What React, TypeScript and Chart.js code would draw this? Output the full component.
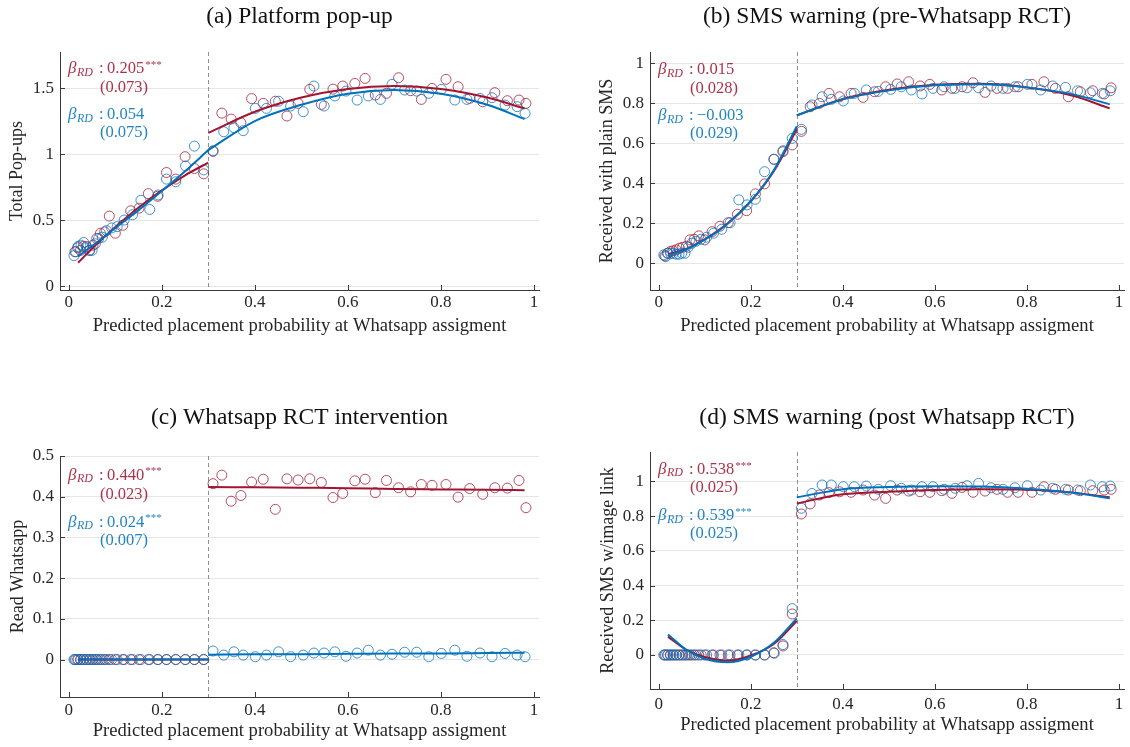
import React, { useEffect, useRef } from "react";
import { Chart, registerables } from "chart.js";

Chart.register(...registerables);

// ---------- bin centres of the running variable (shared by all panels) ----------
const X_RED_LEFT = [0.013, 0.019, 0.025, 0.031, 0.038, 0.045, 0.052, 0.06, 0.068, 0.077, 0.087, 0.1, 0.116, 0.133, 0.151, 0.171, 0.191, 0.21, 0.23, 0.25, 0.27, 0.29];
const X_RED_RIGHT = [0.31, 0.329, 0.349, 0.37, 0.393, 0.418, 0.444, 0.469, 0.493, 0.518, 0.543, 0.568, 0.589, 0.615, 0.637, 0.659, 0.683, 0.709, 0.735, 0.758, 0.781, 0.811, 0.837, 0.862, 0.89, 0.916, 0.943, 0.968, 0.983];
const X_BLUE_LEFT = [0.011, 0.015, 0.02, 0.026, 0.032, 0.038, 0.044, 0.05, 0.057, 0.064, 0.072, 0.081, 0.092, 0.104, 0.119, 0.137, 0.155, 0.174, 0.192, 0.21, 0.23, 0.251, 0.27, 0.29];
const X_BLUE_RIGHT = [0.31, 0.333, 0.355, 0.375, 0.401, 0.425, 0.451, 0.477, 0.504, 0.527, 0.549, 0.572, 0.596, 0.62, 0.644, 0.67, 0.695, 0.722, 0.748, 0.774, 0.801, 0.83, 0.856, 0.884, 0.91, 0.938, 0.964, 0.981];

// knots of the fitted polynomials on each side of the cutoff
const FIT_X_LEFT = [0.02, 0.06, 0.1, 0.15, 0.2, 0.25, 0.3];
const FIT_X_RIGHT = [0.3, 0.4, 0.5, 0.6, 0.7, 0.8, 0.9, 0.98];

const CUTOFF = 0.3;
const X_TICKS = [0, 0.2, 0.4, 0.6, 0.8, 1];
const X_TITLE = "Predicted placement probability at Whatsapp assigment";

// ---------- (a) Platform pop-up ----------
const A_RED_LEFT = [0.26, 0.29, 0.27, 0.3, 0.3, 0.27, 0.31, 0.36, 0.4, 0.41, 0.53, 0.4, 0.46, 0.57, 0.59, 0.7, 0.68, 0.86, 0.81, 0.98, 0.89, 0.85];
const A_RED_RIGHT = [1.02, 1.31, 1.265, 1.237, 1.42, 1.384, 1.4, 1.288, 1.384, 1.49, 1.376, 1.492, 1.515, 1.535, 1.573, 1.447, 1.46, 1.578, 1.48, 1.414, 1.497, 1.566, 1.51, 1.422, 1.396, 1.465, 1.404, 1.409, 1.384];
const A_BLUE_LEFT = [0.23, 0.26, 0.3, 0.31, 0.33, 0.29, 0.27, 0.27, 0.32, 0.36, 0.37, 0.42, 0.44, 0.45, 0.5, 0.54, 0.65, 0.58, 0.69, 0.81, 0.79, 0.91, 1.06, 0.88];
const A_BLUE_RIGHT = [1.025, 1.169, 1.2, 1.177, 1.346, 1.346, 1.4, 1.364, 1.321, 1.515, 1.364, 1.44, 1.477, 1.409, 1.44, 1.414, 1.528, 1.485, 1.477, 1.46, 1.49, 1.409, 1.414, 1.422, 1.427, 1.371, 1.359, 1.308];
const A_FIT_RED_LEFT = [0.177, 0.318, 0.447, 0.595, 0.725, 0.839, 0.935];
const A_FIT_RED_RIGHT = [1.16, 1.32, 1.428, 1.493, 1.515, 1.493, 1.428, 1.345];
const A_FIT_BLUE_LEFT = [0.225, 0.33, 0.44, 0.575, 0.72, 0.87, 1.03];
const A_FIT_BLUE_RIGHT = [1.03, 1.25, 1.373, 1.457, 1.485, 1.457, 1.373, 1.265];
const A_Y_TICKS = [0, 0.5, 1, 1.5];

// ---------- (b) SMS warning (pre-Whatsapp RCT) ----------
const B_RED_LEFT = [0.037, 0.05, 0.058, 0.062, 0.067, 0.075, 0.08, 0.085, 0.117, 0.12, 0.137, 0.117, 0.158, 0.185, 0.203, 0.245, 0.263, 0.347, 0.397, 0.52, 0.558, 0.592];
const B_RED_RIGHT = [0.66, 0.783, 0.8, 0.85, 0.833, 0.85, 0.83, 0.858, 0.883, 0.897, 0.908, 0.887, 0.895, 0.867, 0.875, 0.883, 0.903, 0.855, 0.875, 0.875, 0.883, 0.895, 0.908, 0.875, 0.833, 0.858, 0.863, 0.847, 0.878];
const B_BLUE_LEFT = [0.042, 0.033, 0.05, 0.048, 0.05, 0.045, 0.045, 0.05, 0.05, 0.08, 0.1, 0.11, 0.12, 0.13, 0.15, 0.17, 0.203, 0.317, 0.292, 0.32, 0.458, 0.52, 0.563, 0.625];
const B_BLUE_RIGHT = [0.67, 0.792, 0.833, 0.82, 0.812, 0.85, 0.867, 0.86, 0.87, 0.883, 0.867, 0.847, 0.875, 0.883, 0.875, 0.878, 0.878, 0.887, 0.875, 0.883, 0.895, 0.867, 0.887, 0.88, 0.863, 0.853, 0.85, 0.863];
const B_FIT_RED_LEFT = [0.045, 0.072, 0.12, 0.2, 0.31, 0.46, 0.67];
const B_FIT_RED_RIGHT = [0.74, 0.822, 0.868, 0.893, 0.898, 0.88, 0.838, 0.775];
const B_FIT_BLUE_LEFT = [0.04, 0.07, 0.118, 0.198, 0.31, 0.465, 0.685];
const B_FIT_BLUE_RIGHT = [0.74, 0.82, 0.865, 0.89, 0.895, 0.88, 0.845, 0.795];
const B_Y_TICKS = [0, 0.2, 0.4, 0.6, 0.8, 1];

// ---------- (c) Whatsapp RCT intervention ----------
const C_RED_LEFT = [0, 0, 0, 0, 0, 0, 0, 0, 0, 0, 0, 0, 0, 0, 0, 0, 0, 0, 0, 0, 0, 0];
const C_RED_RIGHT = [0.432, 0.453, 0.389, 0.403, 0.436, 0.443, 0.369, 0.444, 0.441, 0.444, 0.435, 0.398, 0.408, 0.439, 0.443, 0.41, 0.44, 0.422, 0.412, 0.43, 0.428, 0.43, 0.399, 0.42, 0.406, 0.422, 0.421, 0.44, 0.373];
const C_BLUE_LEFT = [0, 0, 0, 0, 0, 0, 0, 0, 0, 0, 0, 0, 0, 0, 0, 0, 0, 0, 0, 0, 0, 0, 0, 0];
const C_BLUE_RIGHT = [0.021, 0.011, 0.019, 0.011, 0.007, 0.011, 0.019, 0.007, 0.011, 0.016, 0.016, 0.019, 0.008, 0.016, 0.023, 0.011, 0.013, 0.018, 0.018, 0.007, 0.015, 0.023, 0.008, 0.016, 0.007, 0.015, 0.011, 0.007];
const C_FIT_RED_LEFT = [0, 0, 0, 0, 0, 0, 0];
const C_FIT_RED_RIGHT = [0.424, 0.423, 0.422, 0.421, 0.419, 0.418, 0.417, 0.416];
const C_FIT_BLUE_LEFT = [0, 0, 0, 0, 0, 0, 0];
const C_FIT_BLUE_RIGHT = [0.012, 0.013, 0.013, 0.014, 0.015, 0.015, 0.016, 0.017];
const C_Y_TICKS = [0, 0.1, 0.2, 0.3, 0.4, 0.5];

// ---------- (d) SMS warning (post Whatsapp RCT) ----------
const D_RED_LEFT = [0, 0, 0, 0, 0, 0, 0, 0, 0, 0, 0, 0, 0, 0, 0, 0, 0, 0, 0, 0.013, 0.052, 0.236];
const D_RED_RIGHT = [0.812, 0.87, 0.921, 0.935, 0.94, 0.937, 0.95, 0.921, 0.902, 0.95, 0.944, 0.94, 0.937, 0.946, 0.931, 0.965, 0.937, 0.944, 0.954, 0.937, 0.937, 0.937, 0.969, 0.954, 0.95, 0.946, 0.946, 0.95, 0.954];
const D_BLUE_LEFT = [0, 0, 0, 0, 0, 0, 0, 0, 0, 0, 0, 0, 0, 0, 0, 0, 0, 0, 0, 0, 0, 0.01, 0.06, 0.267];
const D_BLUE_RIGHT = [0.845, 0.93, 0.979, 0.979, 0.969, 0.969, 0.973, 0.954, 0.975, 0.96, 0.95, 0.969, 0.969, 0.954, 0.96, 0.975, 0.988, 0.963, 0.954, 0.963, 0.975, 0.95, 0.96, 0.954, 0.95, 0.979, 0.969, 0.973];
const D_FIT_RED_LEFT = [0.106, 0.03, -0.012, -0.033, -0.003, 0.063, 0.196];
const D_FIT_RED_RIGHT = [0.873, 0.925, 0.94, 0.95, 0.954, 0.952, 0.935, 0.908];
const D_FIT_BLUE_LEFT = [0.118, 0.03, -0.022, -0.042, -0.01, 0.07, 0.211];
const D_FIT_BLUE_RIGHT = [0.908, 0.955, 0.968, 0.972, 0.97, 0.958, 0.935, 0.902];
const D_Y_TICKS = [0, 0.2, 0.4, 0.6, 0.8, 1];

// ---------- styling ----------
const FONT = '"Liberation Serif", "Times New Roman", serif';
const RED_LINE = "#a2142f";
const RED_MARK = "rgba(162,20,47,0.75)";
const RED_TEXT = "rgba(162,20,47,0.88)";
const BLUE_LINE = "#0072bd";
const BLUE_MARK = "rgba(0,114,189,0.75)";
const BLUE_TEXT = "rgba(0,114,189,0.88)";
const AXIS = "#3a3a3a";
const GRID = "#e6e6e6";
const TEXT = "#262626";
const TITLE_SIZE = 23.5;
const AXIS_TITLE_SIZE = 18;
const X_TITLE_SIZE = 18.6;
const TICK_SIZE = 17;

type Note = { value: string; stars: string; se: string };

type Panel = {
  title: string;
  yTitle: string;
  box: [number, number, number, number]; // canvas left, top, width, height
  plot: [number, number, number, number]; // plot area left, top, right, bottom
  yRange: [number, number];
  yTicks: number[];
  titleY: number;
  yTitleX: number;
  xTickY: number;
  xTitleY: number;
  redLeft: number[];
  redRight: number[];
  blueLeft: number[];
  blueRight: number[];
  fitRedLeft: number[];
  fitRedRight: number[];
  fitBlueLeft: number[];
  fitBlueRight: number[];
  red: Note;
  blue: Note;
  noteRows: number[];
};

const PANELS: Panel[] = [
  {
    title: "(a) Platform pop-up",
    yTitle: "Total Pop-ups",
    box: [0, 0, 565, 373],
    plot: [60, 52, 539, 290],
    yRange: [-0.03, 1.773],
    yTicks: A_Y_TICKS,
    titleY: 16.5,
    yTitleX: 17,
    xTickY: 302.5,
    xTitleY: 326,
    redLeft: A_RED_LEFT,
    redRight: A_RED_RIGHT,
    blueLeft: A_BLUE_LEFT,
    blueRight: A_BLUE_RIGHT,
    fitRedLeft: A_FIT_RED_LEFT,
    fitRedRight: A_FIT_RED_RIGHT,
    fitBlueLeft: A_FIT_BLUE_LEFT,
    fitBlueRight: A_FIT_BLUE_RIGHT,
    red: { value: "0.205", stars: "***", se: "(0.073)" },
    blue: { value: "0.054", stars: "", se: "(0.075)" },
    noteRows: [17, 36, 63, 80.5],
  },
  {
    title: "(b) SMS warning (pre-Whatsapp RCT)",
    yTitle: "Received with plain SMS",
    box: [565, 0, 565, 373],
    plot: [650, 52, 1128, 290],
    yRange: [-0.134, 1.057],
    yTicks: B_Y_TICKS,
    titleY: 16.5,
    yTitleX: 607,
    xTickY: 302.5,
    xTitleY: 326,
    redLeft: B_RED_LEFT,
    redRight: B_RED_RIGHT,
    blueLeft: B_BLUE_LEFT,
    blueRight: B_BLUE_RIGHT,
    fitRedLeft: B_FIT_RED_LEFT,
    fitRedRight: B_FIT_RED_RIGHT,
    fitBlueLeft: B_FIT_BLUE_LEFT,
    fitBlueRight: B_FIT_BLUE_RIGHT,
    red: { value: "0.015", stars: "", se: "(0.028)" },
    blue: { value: "\u22120.003", stars: "", se: "(0.029)" },
    noteRows: [18, 37, 64, 82],
  },
  {
    title: "(c) Whatsapp RCT intervention",
    yTitle: "Read Whatsapp",
    box: [0, 373, 565, 374],
    plot: [60, 456, 539, 697],
    yRange: [-0.092, 0.5],
    yTicks: C_Y_TICKS,
    titleY: 418,
    yTitleX: 18.3,
    xTickY: 710.5,
    xTitleY: 731.5,
    redLeft: C_RED_LEFT,
    redRight: C_RED_RIGHT,
    blueLeft: C_BLUE_LEFT,
    blueRight: C_BLUE_RIGHT,
    fitRedLeft: C_FIT_RED_LEFT,
    fitRedRight: C_FIT_RED_RIGHT,
    fitBlueLeft: C_FIT_BLUE_LEFT,
    fitBlueRight: C_FIT_BLUE_RIGHT,
    red: { value: "0.440", stars: "***", se: "(0.023)" },
    blue: { value: "0.024", stars: "***", se: "(0.007)" },
    noteRows: [19.3, 38.3, 66.3, 84.3],
  },
  {
    title: "(d) SMS warning (post Whatsapp RCT)",
    yTitle: "Received SMS w/image link",
    box: [565, 373, 565, 374],
    plot: [650, 452, 1128, 689],
    yRange: [-0.196, 1.169],
    yTicks: D_Y_TICKS,
    titleY: 418,
    yTitleX: 608.3,
    xTickY: 704.5,
    xTitleY: 725,
    redLeft: D_RED_LEFT,
    redRight: D_RED_RIGHT,
    blueLeft: D_BLUE_LEFT,
    blueRight: D_BLUE_RIGHT,
    fitRedLeft: D_FIT_RED_LEFT,
    fitRedRight: D_FIT_RED_RIGHT,
    fitBlueLeft: D_FIT_BLUE_LEFT,
    fitBlueRight: D_FIT_BLUE_RIGHT,
    red: { value: "0.538", stars: "***", se: "(0.025)" },
    blue: { value: "0.539", stars: "***", se: "(0.025)" },
    noteRows: [17.7, 36, 64, 81.7],
  },
];

const X_RANGE: [number, number] = [-0.019, 1.011];

const pts = (xs: number[], ys: number[]) => xs.map((x, i) => ({ x, y: ys[i] }));

// Cutoff line, inward tick marks and the RD estimates printed in the corner
const rdNotes = {
  id: "rdNotes",
  beforeDatasetsDraw(chart: any, _args: any, opts: any) {
    const { ctx, chartArea, scales } = chart;
    const px = scales.x.getPixelForValue(opts.cutoff);
    ctx.save();
    ctx.strokeStyle = "#8f8f8f";
    ctx.lineWidth = 1;
    ctx.setLineDash([4, 3]);
    ctx.beginPath();
    ctx.moveTo(Math.round(px) + 0.5, chartArea.top);
    ctx.lineTo(Math.round(px) + 0.5, chartArea.bottom);
    ctx.stroke();
    ctx.restore();
  },
  afterDatasetsDraw(chart: any, _args: any, opts: any) {
    const { ctx, chartArea, scales } = chart;
    ctx.save();
    ctx.strokeStyle = AXIS;
    ctx.lineWidth = 1;
    ctx.beginPath();
    for (const t of scales.x.ticks) {
      const px = Math.round(scales.x.getPixelForValue(t.value)) + 0.5;
      ctx.moveTo(px, chartArea.bottom);
      ctx.lineTo(px, chartArea.bottom - 5);
    }
    for (const t of scales.y.ticks) {
      const py = Math.round(scales.y.getPixelForValue(t.value)) + 0.5;
      ctx.moveTo(chartArea.left, py);
      ctx.lineTo(chartArea.left + 5, py);
    }
    ctx.stroke();

    const x0 = chartArea.left + 8;
    const rows: number[] = opts.rows;
    const drawNote = (n: Note, color: string, y1: number, y2: number) => {
      ctx.fillStyle = color;
      ctx.textBaseline = "middle";
      ctx.textAlign = "left";
      ctx.font = `italic 17px ${FONT}`;
      ctx.fillText("\u03b2", x0, y1);
      const bw = ctx.measureText("\u03b2").width;
      ctx.font = `italic 12px ${FONT}`;
      ctx.fillText("RD", x0 + bw + 0.5, y1 + 3.5);
      ctx.font = `16.5px ${FONT}`;
      ctx.fillText(":", x0 + 31, y1);
      ctx.fillText(n.value, x0 + 39, y1);
      const vw = ctx.measureText(n.value).width;
      if (n.stars) {
        ctx.font = `11px ${FONT}`;
        ctx.fillText(n.stars, x0 + 39 + vw + 1, y1 - 4);
      }
      ctx.font = `16.5px ${FONT}`;
      ctx.fillText(n.se, x0 + 32, y2);
    };
    drawNote(opts.red, RED_TEXT, chartArea.top + rows[0], chartArea.top + rows[1]);
    drawNote(opts.blue, BLUE_TEXT, chartArea.top + rows[2], chartArea.top + rows[3]);
    ctx.restore();
  },
};

function buildConfig(p: Panel): any {
  const [cx, cy, cw, ch] = p.box;
  const [L, T, R, B] = p.plot;
  const titleLH = TITLE_SIZE * 1.2;
  const axisLH = AXIS_TITLE_SIZE * 1.2;
  const xTitleLH = X_TITLE_SIZE * 1.2;
  const tickLH = TICK_SIZE * 1.2;
  const titleTop = p.titleY - cy - titleLH / 2;

  const fit = (xs: number[], ys: number[], color: string) => ({
    data: pts(xs, ys),
    showLine: true,
    borderColor: color,
    borderWidth: 2,
    pointRadius: 0,
    cubicInterpolationMode: "monotone",
    fill: false,
  });
  const marks = (xs: number[], ys: number[], color: string) => ({
    data: pts(xs, ys),
    showLine: false,
    pointStyle: "circle",
    pointRadius: 5,
    pointBorderWidth: 1,
    pointBorderColor: color,
    pointBackgroundColor: "rgba(0,0,0,0)",
    borderColor: color,
    backgroundColor: "rgba(0,0,0,0)",
  });

  return {
    type: "scatter",
    data: {
      datasets: [
        fit(FIT_X_RIGHT, p.fitBlueRight, BLUE_LINE),
        fit(FIT_X_LEFT, p.fitBlueLeft, BLUE_LINE),
        fit(FIT_X_RIGHT, p.fitRedRight, RED_LINE),
        fit(FIT_X_LEFT, p.fitRedLeft, RED_LINE),
        marks(X_BLUE_LEFT, p.blueLeft, BLUE_MARK),
        marks(X_BLUE_RIGHT, p.blueRight, BLUE_MARK),
        marks(X_RED_LEFT, p.redLeft, RED_MARK),
        marks(X_RED_RIGHT, p.redRight, RED_MARK),
      ],
    },
    plugins: [rdNotes],
    options: {
      animation: false,
      responsive: false,
      maintainAspectRatio: false,
      devicePixelRatio: 1,
      events: [],
      layout: { padding: { left: 0, top: 0, right: cx + cw - R, bottom: 0 } },
      plugins: {
        legend: { display: false },
        tooltip: { enabled: false },
        title: {
          display: true,
          text: p.title,
          fullSize: false,
          color: "#111111",
          font: { family: FONT, size: TITLE_SIZE, weight: "normal", lineHeight: 1.2 },
          padding: { top: titleTop, bottom: T - cy - titleLH - titleTop },
        },
        rdNotes: { cutoff: CUTOFF, red: p.red, blue: p.blue, rows: p.noteRows },
      },
      scales: {
        x: {
          type: "linear",
          position: "bottom",
          min: X_RANGE[0],
          max: X_RANGE[1],
          afterBuildTicks: (s: any) => {
            s.ticks = X_TICKS.map((v) => ({ value: v }));
          },
          afterFit: (s: any) => {
            s.height = cy + ch - B;
          },
          grid: { display: true, drawOnChartArea: false, drawTicks: false },
          border: { display: true, color: AXIS, width: 1 },
          ticks: {
            color: TEXT,
            font: { family: FONT, size: TICK_SIZE, lineHeight: 1.2 },
            padding: p.xTickY - B - tickLH / 2,
            maxRotation: 0,
            autoSkip: false,
            callback: (v: any) => String(v),
          },
          title: {
            display: true,
            text: X_TITLE,
            color: TEXT,
            font: { family: FONT, size: X_TITLE_SIZE, lineHeight: 1.2 },
            padding: { top: 0, bottom: cy + ch - p.xTitleY - xTitleLH / 2 },
          },
        },
        y: {
          type: "linear",
          position: "left",
          min: p.yRange[0],
          max: p.yRange[1],
          afterBuildTicks: (s: any) => {
            s.ticks = p.yTicks.map((v) => ({ value: v }));
          },
          afterFit: (s: any) => {
            s.width = L - cx;
          },
          grid: { display: true, drawOnChartArea: true, drawTicks: false, color: GRID, lineWidth: 1 },
          border: { display: true, color: AXIS, width: 1 },
          ticks: {
            color: TEXT,
            font: { family: FONT, size: TICK_SIZE, lineHeight: 1.2 },
            padding: 6,
            autoSkip: false,
            callback: (v: any) => String(v),
          },
          title: {
            display: true,
            text: p.yTitle,
            color: TEXT,
            font: { family: FONT, size: AXIS_TITLE_SIZE, lineHeight: 1.2 },
            padding: { top: p.yTitleX - cx - axisLH / 2, bottom: 0 },
          },
        },
      },
    },
  };
}

function RdPanel({ panel }: { panel: Panel }) {
  const ref = useRef<HTMLCanvasElement | null>(null);
  useEffect(() => {
    if (!ref.current) return;
    const chart = new Chart(ref.current, buildConfig(panel));
    return () => chart.destroy();
  }, [panel]);
  const [cx, cy, cw, ch] = panel.box;
  return (
    <canvas
      ref={ref}
      width={cw}
      height={ch}
      style={{ position: "absolute", left: cx, top: cy, width: cw, height: ch }}
    />
  );
}

export default function App() {
  return (
    <div
      style={{
        position: "absolute",
        left: 0,
        top: 0,
        width: 1130,
        height: 747,
        background: "#ffffff",
        overflow: "hidden",
      }}
    >
      {PANELS.map((p) => (
        <RdPanel key={p.title} panel={p} />
      ))}
    </div>
  );
}
